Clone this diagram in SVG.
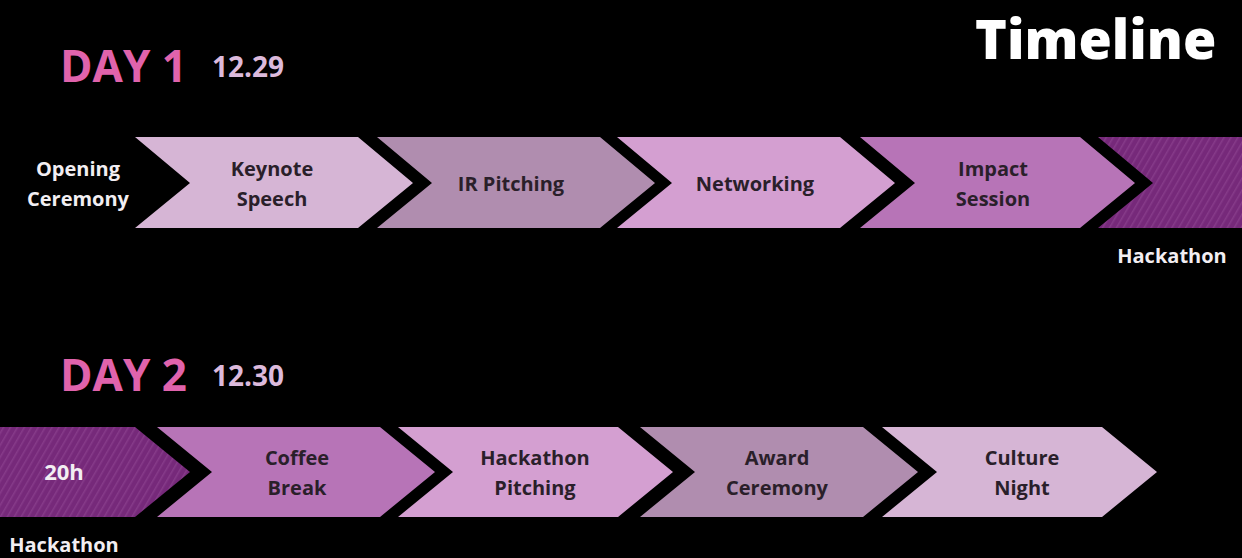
<svg xmlns="http://www.w3.org/2000/svg" width="1242" height="558" viewBox="0 0 1242 558">
<defs>
<pattern id="stripes" patternUnits="userSpaceOnUse" width="6" height="6" patternTransform="rotate(30)">
<rect width="6" height="6" fill="#76297a"/>
<rect width="1.5" height="6" fill="#863b89"/>
</pattern>
</defs>
<style>
.lbl{font-family:"Open Sans","Noto Sans",sans-serif;font-weight:700;font-size:20px;fill:#2a1f2a;text-anchor:middle;dominant-baseline:central}
.wlbl{font-family:"Open Sans","Noto Sans",sans-serif;font-weight:700;font-size:20px;fill:#f2eef2;text-anchor:middle;dominant-baseline:central}
.day{font-family:"Open Sans","Noto Sans",sans-serif;font-weight:700;font-size:44px;fill:#e063ac}
.date{font-family:"Open Sans","Noto Sans",sans-serif;font-weight:700;font-size:28px;fill:#dcbadc}
.title{font-family:"Open Sans","Noto Sans",sans-serif;font-weight:800;font-size:54px;fill:#ffffff}
.c1{fill:#d6b5d5}.c2{fill:#b08daf}.c3{fill:#d49fd1}.c4{fill:#b774b7}.cs{fill:url(#stripes)}
</style>
<rect width="1242" height="558" fill="#000000"/>
<text class="title" x="975" y="59">Timeline</text>
<g id="day1-header">
<text class="day" x="60" y="82">DAY 1</text>
<text class="date" x="212" y="77">12.29</text>
</g>
<g id="day2-header">
<text class="day" x="60" y="391">DAY 2</text>
<text class="date" x="212" y="386">12.30</text>
</g>
<g id="connectors"></g>
<g id="opening">
<text class="wlbl" x="78" y="168">Opening</text>
<text class="wlbl" x="78" y="198">Ceremony</text>
</g>
<g id="keynote">
<polygon class="c1" points="135,137 358,137 413,183 358,228 135,228 190,183"/>
<text class="lbl" x="272" y="168">Keynote</text>
<text class="lbl" x="272" y="198">Speech</text>
</g>
<g id="ir">
<polygon class="c2" points="377,137 600,137 655,183 600,228 377,228 432,183"/>
<text class="lbl" x="511" y="183">IR Pitching</text>
</g>
<g id="networking">
<polygon class="c3" points="617,137 840,137 895,183 840,228 617,228 672,183"/>
<text class="lbl" x="755" y="183">Networking</text>
</g>
<g id="impact">
<polygon class="c4" points="860,137 1080,137 1135,183 1080,228 860,228 915,183"/>
<text class="lbl" x="993" y="168">Impact</text>
<text class="lbl" x="993" y="198">Session</text>
</g>
<g id="hackathon1">
<polygon class="cs" points="1098,137 1242,137 1242,228 1098,228 1153,183"/>
<text class="wlbl" x="1172" y="255">Hackathon</text>
</g>
<g id="hackathon2">
<polygon class="cs" points="0,427 135,427 190,472 135,517 0,517"/>
<text class="wlbl" x="64" y="471" style="font-size:22px">20h</text>
<text class="wlbl" x="64" y="544">Hackathon</text>
</g>
<g id="coffee">
<polygon class="c4" points="157,427 380,427 435,472 380,517 157,517 212,472"/>
<text class="lbl" x="297" y="457">Coffee</text>
<text class="lbl" x="297" y="487">Break</text>
</g>
<g id="hpitching">
<polygon class="c3" points="398,427 618,427 673,472 618,517 398,517 453,472"/>
<text class="lbl" x="535" y="457">Hackathon</text>
<text class="lbl" x="535" y="487">Pitching</text>
</g>
<g id="award">
<polygon class="c2" points="640,427 863,427 918,472 863,517 640,517 695,472"/>
<text class="lbl" x="777" y="457">Award</text>
<text class="lbl" x="777" y="487">Ceremony</text>
</g>
<g id="culture">
<polygon class="c1" points="882,427 1102,427 1157,472 1102,517 882,517 937,472"/>
<text class="lbl" x="1022" y="457">Culture</text>
<text class="lbl" x="1022" y="487">Night</text>
</g>
</svg>
